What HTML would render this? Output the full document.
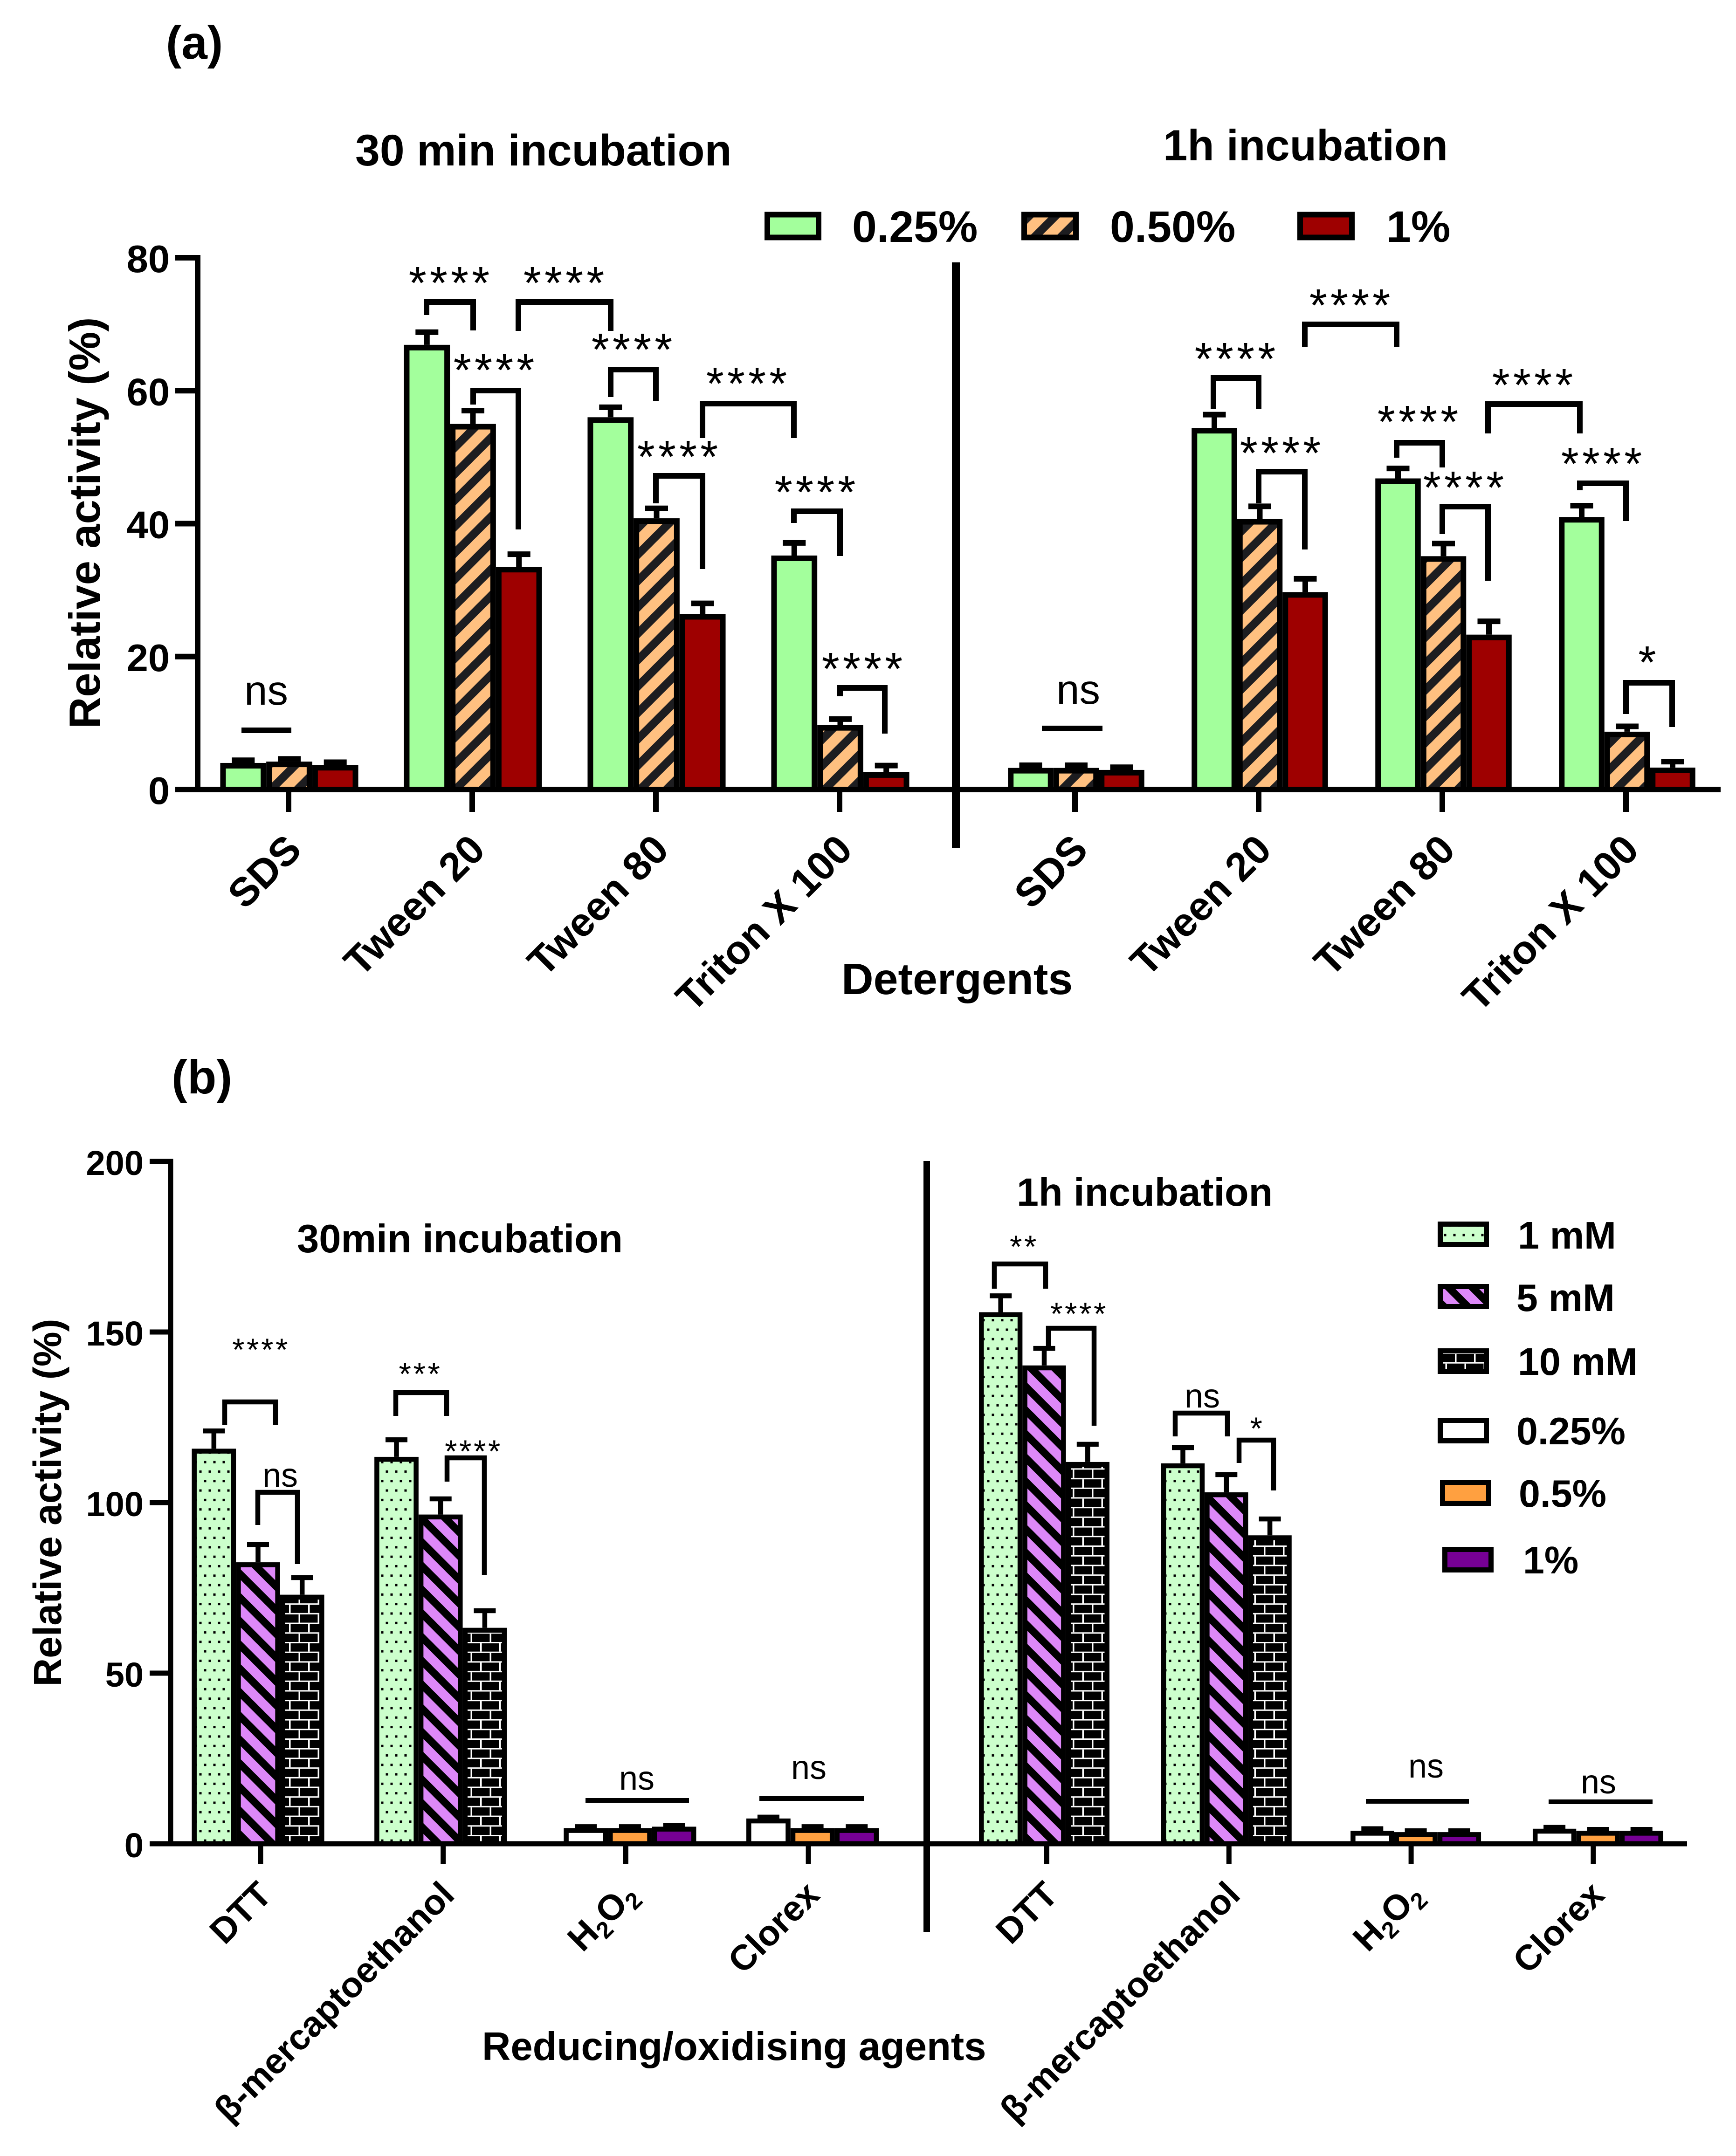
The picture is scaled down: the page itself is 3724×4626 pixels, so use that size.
<!DOCTYPE html>
<html lang="en">
<head>
<meta charset="utf-8">
<title>Relative activity with detergents and reducing/oxidising agents</title>
<style>
html,body{margin:0;padding:0;background:#fff}
svg{display:block}
text{font-family:"Liberation Sans",Arial,sans-serif;fill:#000}
.b{font-weight:700}
.br{fill:none;stroke:#000;stroke-width:12;stroke-linejoin:miter}
.brb{fill:none;stroke:#000;stroke-width:10.5;stroke-linejoin:miter}
.st{font-size:98px;letter-spacing:7px;text-anchor:middle;transform:translate(3px,-15px)}
.stb{font-size:68px;letter-spacing:4.5px;text-anchor:middle;transform:translate(2px,-12px)}
.ns{font-size:89px;text-anchor:middle}
.nsb{font-size:72px;text-anchor:middle}
</style>
</head>
<body>
<svg id="chart" xmlns="http://www.w3.org/2000/svg" width="3724" height="4626" viewBox="0 0 3724 4626">
<defs>
<pattern id="hatch-orange" patternUnits="userSpaceOnUse" width="40" height="40" patternTransform="rotate(-45)">
<rect width="40" height="40" fill="#FFC080"/><rect y="0" width="40" height="17.5" fill="#1D1D20"/>
</pattern>
<pattern id="hatch-purple" patternUnits="userSpaceOnUse" width="36" height="36" patternTransform="rotate(45)">
<rect width="36" height="36" fill="#DD88F8"/><rect y="0" width="36" height="16" fill="#000"/>
</pattern>
<pattern id="dots-green" patternUnits="userSpaceOnUse" x="10" y="1" width="20" height="40.6">
<rect width="20" height="40.6" fill="#CCFFCC"/>
<rect x="7.5" y="7.5" width="5" height="5" fill="#000"/>
<rect x="-2.5" y="27.8" width="5" height="5" fill="#000"/>
<rect x="17.5" y="27.8" width="5" height="5" fill="#000"/>
</pattern>
<pattern id="bricks" patternUnits="userSpaceOnUse" width="41" height="41.4">
<rect width="41" height="41.4" fill="#000"/>
<rect y="4" width="41" height="3" fill="#fff"/>
<rect y="24.7" width="41" height="3" fill="#fff"/>
<rect x="5" y="7" width="3.5" height="17.7" fill="#fff"/>
<rect x="25.5" y="27.7" width="3.5" height="13.7" fill="#fff"/>
<rect x="25.5" y="0" width="3.5" height="4" fill="#fff"/>
</pattern>
</defs>

<rect width="3724" height="4626" fill="#fff"/>

<!-- panel headings -->
<text class="b" x="356" y="126" font-size="100">(a)</text>
<text class="b" x="762" y="355" font-size="95">30 min incubation</text>
<text class="b" x="2495" y="344" font-size="94">1h incubation</text>
<text class="b" font-size="94" text-anchor="middle" transform="translate(214 1122) rotate(-90)">Relative activity (%)</text>
<text class="b" x="1805" y="2133" font-size="95">Detergents</text>
<rect x="2042" y="563" width="17" height="1257" fill="#000"/>

<text class="b" x="368" y="2346" font-size="102">(b)</text>
<text class="b" x="637" y="2687" font-size="85">30min incubation</text>
<text class="b" x="2181" y="2587" font-size="84.5">1h incubation</text>
<text class="b" font-size="84" text-anchor="middle" transform="translate(131 3224) rotate(-90)">Relative activity (%)</text>
<text class="b" x="1034" y="4420" font-size="85">Reducing/oxidising agents</text>
<rect x="1981" y="2491" width="14" height="1654" fill="#000"/>

<g id="plots"></g>

<!-- legend a -->
<g>
<g><rect x="1646" y="460.5" width="110" height="49" fill="#A3FF9C" stroke="#000" stroke-width="12"/><text class="b" x="1828" y="519" font-size="95">0.25%</text></g>
<g><rect x="2197" y="460.5" width="111" height="49" fill="url(#hatch-orange)" stroke="#000" stroke-width="12"/><text class="b" x="2381" y="519" font-size="95">0.50%</text></g>
<g><rect x="2789" y="460.5" width="111" height="49" fill="#9E0000" stroke="#000" stroke-width="12"/><text class="b" x="2974" y="519" font-size="95">1%</text></g>
</g>

<!-- legend b -->
<g>
<g><rect x="3089.5" y="2626.5" width="99" height="44" fill="url(#dots-green)" stroke="#000" stroke-width="11"/><text class="b" x="3256" y="2679" font-size="82.5">1 mM</text></g>
<g><rect x="3089.5" y="2760.5" width="99" height="43" fill="url(#hatch-purple)" stroke="#000" stroke-width="11"/><text class="b" x="3253" y="2813" font-size="82.5">5 mM</text></g>
<g><rect x="3089.5" y="2898.5" width="99" height="44" fill="url(#bricks)" stroke="#000" stroke-width="11"/><text class="b" x="3256" y="2950" font-size="82.5">10 mM</text></g>
<g><rect x="3089.5" y="3047.5" width="99" height="44" fill="#fff" stroke="#000" stroke-width="11"/><text class="b" x="3253" y="3099" font-size="82.5">0.25%</text></g>
<g><rect x="3094.5" y="3180.5" width="99" height="45" fill="#FFA040" stroke="#000" stroke-width="11"/><text class="b" x="3258" y="3233" font-size="82.5">0.5%</text></g>
<g><rect x="3099.5" y="3324.5" width="99" height="44" fill="#760094" stroke="#000" stroke-width="11"/><text class="b" x="3267" y="3376" font-size="82.5">1%</text></g>
</g>

<!-- significance annotations panel a, 30 min -->
<g>
<path class="br" d="M915 676V648H1015V709"/><text class="st" x="964" y="656">****</text>
<path class="br" d="M1112 710V648H1310V710"/><text class="st" x="1210" y="656">****</text>
<path class="br" d="M1015 868V838H1112V1136"/><text class="st" x="1060" y="843">****</text>
<path class="br" d="M1310 852V793H1407V860"/><text class="st" x="1356" y="799">****</text>
<path class="br" d="M1407 1080V1021H1507V1221"/><text class="st" x="1454" y="1029">****</text>
<path class="br" d="M1507 940V866H1703V940"/><text class="st" x="1602" y="872">****</text>
<path class="br" d="M1703 1122V1097H1802V1193"/><text class="st" x="1749" y="1105">****</text>
<path class="br" d="M1802 1494V1476H1898V1574"/><text class="st" x="1850" y="1484">****</text>
<text class="ns" x="571" y="1512">ns</text>
<rect x="518" y="1561" width="107" height="12" fill="#000"/>
</g>

<!-- significance annotations panel a, 1 h -->
<g>
<path class="br" d="M2603 877V811H2700V877"/><text class="st" x="2650" y="819">****</text>
<path class="br" d="M2799 744V696H2996V744"/><text class="st" x="2896" y="704">****</text>
<path class="br" d="M2700 1080V1012H2799V1179"/><text class="st" x="2747" y="1021">****</text>
<path class="br" d="M2996 982V950H3094V1003"/><text class="st" x="3042" y="954">****</text>
<path class="br" d="M3094 1146V1087H3192V1246"/><text class="st" x="3140" y="1095">****</text>
<path class="br" d="M3192 930V867H3389V930"/><text class="st" x="3288" y="875">****</text>
<path class="br" d="M3389 1052V1037H3488V1118"/><text class="st" x="3436" y="1044">****</text>
<path class="br" d="M3488 1532V1465H3587V1560"/><text class="st" x="3534" y="1470">*</text>
<text class="ns" x="2313" y="1510">ns</text>
<rect x="2235" y="1557" width="130" height="12" fill="#000"/>
</g>

<!-- significance annotations panel b, 30 min -->
<g>
<path class="brb" d="M482 3058V3008H591V3058"/><text class="stb" x="558" y="2931">****</text>
<path class="brb" d="M553 3272V3202H638V3356"/><text class="nsb" x="601" y="3190">ns</text>
<path class="brb" d="M849 3038V2988H958V3038"/><text class="stb" x="900" y="2983">***</text>
<path class="brb" d="M959 3179V3128H1039V3379"/><text class="stb" x="1014" y="3149">****</text>
<text class="nsb" x="1366" y="3840">ns</text>
<rect x="1256" y="3858" width="222" height="10" fill="#000"/>
<text class="nsb" x="1735" y="3817">ns</text>
<rect x="1629" y="3854" width="224" height="10" fill="#000"/>
</g>

<!-- significance annotations panel b, 1 h -->
<g>
<path class="brb" d="M2133 2765V2712H2243V2765"/><text class="stb" x="2195" y="2710">**</text>
<path class="brb" d="M2249 2889V2850H2347V3059"/><text class="stb" x="2313" y="2854">****</text>
<path class="brb" d="M2521 3082V3032H2633V3082"/><text class="nsb" x="2579" y="3020">ns</text>
<path class="brb" d="M2658 3139V3090H2732V3198"/><text class="stb" x="2695" y="3100">*</text>
<text class="nsb" x="3059" y="3814">ns</text>
<rect x="2930" y="3860" width="221" height="10" fill="#000"/>
<text class="nsb" x="3429" y="3848">ns</text>
<rect x="3322" y="3861" width="223" height="10" fill="#000"/>
</g>
</svg>

<script>
// ---------- panel (a) data: detergents ----------
const detergentCategories = ['SDS', 'Tween 20', 'Tween 80', 'Triton X 100'];
const detergentYTicks = [0, 20, 40, 60, 80];
const det30minLow = [4.0, 66.9, 56.0, 35.2];
const det30minMid = [4.2, 55.0, 40.8, 9.7];
const det30minHigh = [3.7, 33.5, 26.4, 2.6];
const det30minLowErr = [0.4, 1.9, 1.5, 1.9];
const det30minMidErr = [0.4, 2.0, 1.5, 0.9];
const det30minHighErr = [0.4, 1.9, 1.6, 1.0];
const det1hLow = [3.25, 54.4, 46.8, 41.0];
const det1hMid = [3.25, 40.7, 35.1, 8.7];
const det1hHigh = [2.95, 29.7, 23.3, 3.3];
const det1hLowErr = [0.4, 2.0, 1.5, 1.7];
const det1hMidErr = [0.4, 1.9, 1.9, 0.8];
const det1hHighErr = [0.4, 2.0, 2.0, 0.9];

// ---------- panel (b) data: reducing / oxidising agents ----------
const agentCategories = ['DTT', 'β-mercaptoethanol', 'H2O2', 'Clorex'];
const agentYTicks = [0, 50, 100, 150, 200];
const agent30minLow = [115.8, 113.4, 4.6, 7.4];
const agent30minMid = [82.5, 96.5, 4.6, 4.6];
const agent30minHigh = [73.0, 63.3, 5.0, 4.6];
const agent30minLowErr = [5.2, 5.0, 0.4, 0.4];
const agent30minMidErr = [5.2, 4.6, 0.4, 0.4];
const agent30minHighErr = [5.0, 5.0, 0.4, 0.4];
const agent1hLow = [155.8, 111.5, 3.8, 4.4];
const agent1hMid = [140.2, 103.0, 3.4, 3.8];
const agent1hHigh = [111.9, 90.4, 3.4, 3.8];
const agent1hLowErr = [4.8, 4.6, 0.6, 0.4];
const agent1hMidErr = [5.0, 5.2, 0.4, 0.4];
const agent1hHighErr = [5.2, 4.8, 0.4, 0.4];

const SVG_NS = 'http://www.w3.org/2000/svg';
const plots = document.getElementById('plots');

function mk(tag, attrs) {
  const n = document.createElementNS(SVG_NS, tag);
  for (const k in attrs) n.setAttribute(k, attrs[k]);
  plots.appendChild(n);
  return n;
}

// axis scales
const yDet = v => 1694 - v * (1694 - 553) / 80;
const yAgent = v => 3956 - v * (3956 - 2492) / 200;
const tickDet30 = i => 619 + 394 * i;
const tickDet1h = i => 2306 + 394 * i;
const tickAgent30 = i => 559 + 391.7 * i;
const tickAgent1h = i => 2245.5 + 390.8 * i;
const centerDet30 = i => tickDet30(i) + 1.5;
const centerDet1h = i => tickDet1h(i) + 2.5;
const centerAgent30 = i => tickAgent30(i) + (i < 2 ? -5.5 : 9);
const centerAgent1h = i => tickAgent1h(i) + (i < 2 ? -5.5 : 10);

function drawBars(values, errs, slot, fill, center, y, barW, sw, capW) {
  values.forEach((v, i) => {
    const left = center(i) + (slot - 1.5) * barW;
    const mid = left + barW / 2;
    const top = y(v);
    const capY = y(v + errs[i]);

    const stem = mk('line', {x1: mid, x2: mid, y1: top, y2: capY, stroke: '#000', 'stroke-width': sw});
    
    

    const cap = mk('line', {x1: mid - capW / 2, x2: mid + capW / 2, y1: capY, y2: capY, stroke: '#000', 'stroke-width': sw});
    
    

    const bar = mk('rect', {x: left + sw / 2, y: top + sw / 2, width: barW - sw, height: Math.max(0, y(0) - top - sw / 2), fill: fill, stroke: '#000', 'stroke-width': sw});
    
    
  });
}

function drawYAxis(ticks, y, axisX, tickLeft, labelX, labelDy, fontSize, lw) {
  const spine = mk('line', {x1: axisX, x2: axisX, y1: y(ticks[ticks.length - 1]) - lw / 2, y2: y(0) + lw / 2, stroke: '#000', 'stroke-width': lw});
  
  
  ticks.forEach(t => {
    const mark = mk('line', {x1: tickLeft, x2: axisX, y1: y(t), y2: y(t), stroke: '#000', 'stroke-width': lw});
    
    
    const label = mk('text', {x: labelX, y: y(t) + labelDy, 'font-size': fontSize, 'font-weight': 700, 'text-anchor': 'end'});
    label.textContent = String(t);
    
    
  });
}

function drawXAxis(cats, tick, y0, tickLen, dx, yEnd, fontSize, lw, subscripts) {
  cats.forEach((c, i) => {
    const x = tick(i);
    const mark = mk('line', {x1: x, x2: x, y1: y0, y2: y0 + tickLen, stroke: '#000', 'stroke-width': lw});
    
    
    const xe = x + dx;
    const label = mk('text', {x: xe, y: yEnd, 'font-size': fontSize, 'font-weight': 700, 'text-anchor': 'end', transform: 'rotate(-45 ' + xe + ' ' + yEnd + ')'});
    
    
    if (subscripts && /\d/.test(c)) {
      c.split(/(\d)/).filter(Boolean).forEach(part => {
        const ts = document.createElementNS(SVG_NS, 'tspan');
        ts.textContent = part;
        if (/\d/.test(part)) {
          ts.setAttribute('font-size', fontSize * 0.66);
          ts.setAttribute('dy', fontSize * 0.2);
        } else if (label.childNodes.length) {
          ts.setAttribute('dy', -fontSize * 0.2);
        }
        label.appendChild(ts);
      });
    } else {
      label.textContent = c;
    }
  });
}

const GREEN = '#A3FF9C', ORANGE = 'url(#hatch-orange)', MAROON = '#9E0000';
const DOTS = 'url(#dots-green)', PURPLE = 'url(#hatch-purple)', BRICK = 'url(#bricks)';
const WHITE = '#fff', ORANGE2 = '#FFA040', VIOLET = '#760094';

// panel (a)
drawBars(det30minLow, det30minLowErr, 0, GREEN, centerDet30, yDet, 98.7, 12, 49);
drawBars(det30minMid, det30minMidErr, 1, ORANGE, centerDet30, yDet, 98.7, 12, 49);
drawBars(det30minHigh, det30minHighErr, 2, MAROON, centerDet30, yDet, 98.7, 12, 49);
drawBars(det1hLow, det1hLowErr, 0, GREEN, centerDet1h, yDet, 97.5, 12, 49);
drawBars(det1hMid, det1hMidErr, 1, ORANGE, centerDet1h, yDet, 97.5, 12, 49);
drawBars(det1hHigh, det1hHighErr, 2, MAROON, centerDet1h, yDet, 97.5, 12, 49);

const xAxisA = mk('line', {x1: 376, x2: 3691, y1: yDet(0), y2: yDet(0), stroke: '#000', 'stroke-width': 12});


drawYAxis(detergentYTicks, yDet, 424, 376, 364, 31, 83, 12);
drawXAxis(detergentCategories, tickDet30, yDet(0), 48, 32, 1828, 86.5, 12, false);
drawXAxis(detergentCategories, tickDet1h, yDet(0), 48, 32, 1828, 86.5, 12, false);

// panel (b)
const bands30 = [[agent30minLow, agent30minLowErr, DOTS], [agent30minMid, agent30minMidErr, PURPLE], [agent30minHigh, agent30minHighErr, BRICK]];
const bands30Chem = [WHITE, ORANGE2, VIOLET];
const bands1h = [[agent1hLow, agent1hLowErr, DOTS], [agent1hMid, agent1hMidErr, PURPLE], [agent1hHigh, agent1hHighErr, BRICK]];

function drawAgentSeries(sets, center, barW) {
  sets.forEach((set, s) => {
    const thiol = set[0].slice(0, 2);
    const oxid = set[0].slice(2);
    drawBars(thiol, set[1], s, set[2], center, yAgent, barW, 10.5, 47);
    drawBars(oxid, set[1].slice(2), s, bands30Chem[s], i => center(i + 2), yAgent, barW, 10.5, 47);
  });
}
drawAgentSeries(bands30, centerAgent30, 94.7);
drawAgentSeries(bands1h, centerAgent1h, 93.3);

const xAxisB = mk('line', {x1: 321, x2: 3619, y1: yAgent(0), y2: yAgent(0), stroke: '#000', 'stroke-width': 11});


drawYAxis(agentYTicks, yAgent, 366, 321, 308, 29, 74, 11);
drawXAxis(agentCategories, tickAgent30, yAgent(0), 44, 28, 4070, 76.5, 11, true);
drawXAxis(agentCategories, tickAgent1h, yAgent(0), 44, 28, 4070, 76.5, 11, true);
</script>
</body>
</html>
